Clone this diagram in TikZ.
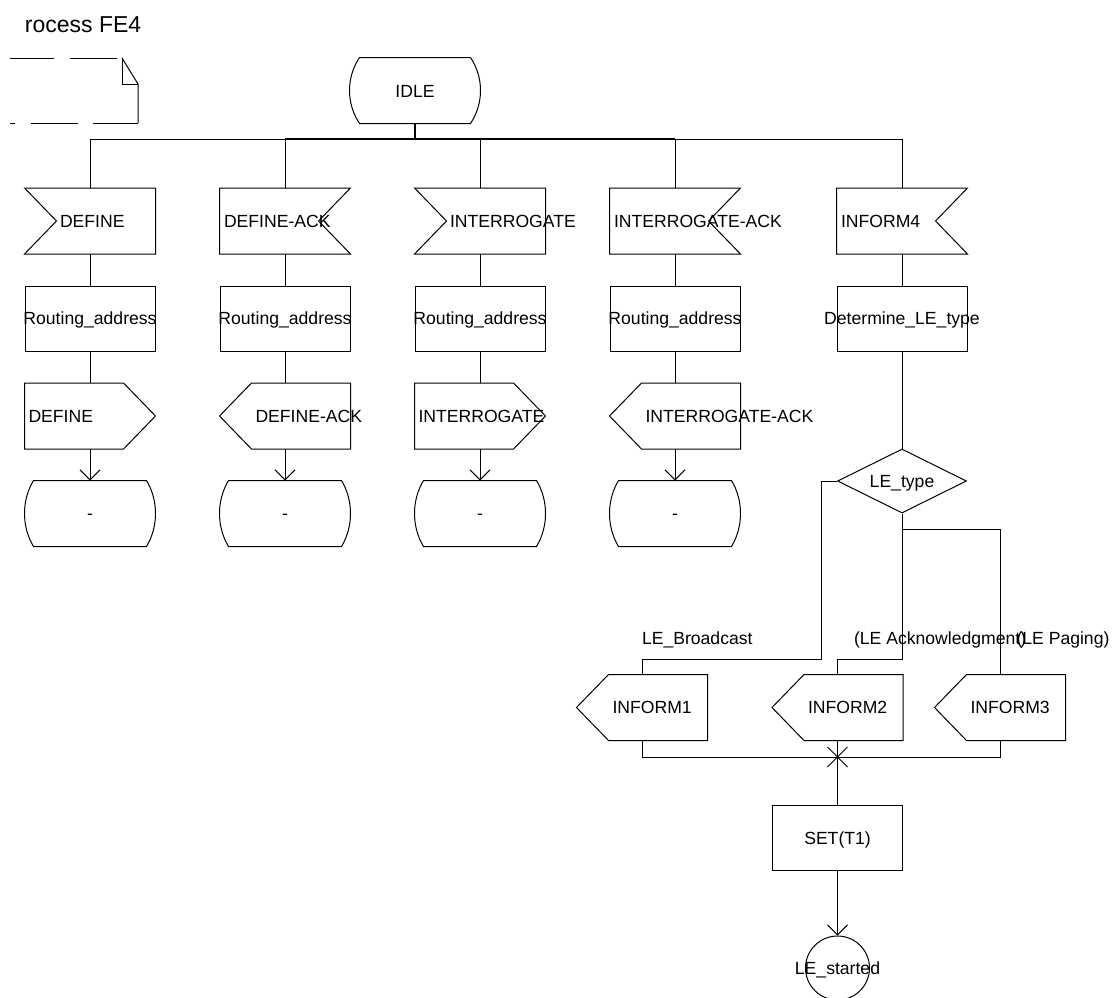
\documentclass[tikz,border=0pt]{standalone}
\usepackage{fontspec}
\setmainfont{Liberation Sans}
\usetikzlibrary{calc,arrows.meta,shapes.geometric}
\newcommand\ft{\fontsize{8.8}{10.5}\selectfont}
\newcommand\sdlInL[1]{\draw (#1.north west) -- (#1.north east) -- (#1.south east) -- (#1.south west) -- ($(#1.west)+(32,0)$) -- cycle;}
\newcommand\sdlInR[1]{\draw (#1.north west) -- (#1.north east) -- ($(#1.east)-(32,0)$) -- (#1.south east) -- (#1.south west) -- cycle;}
\newcommand\sdlOutR[1]{\draw (#1.north west) -- ($(#1.north east)-(32,0)$) -- (#1.east) -- ($(#1.south east)-(32,0)$) -- (#1.south west) -- cycle;}
\newcommand\sdlOutL[1]{\draw (#1.west) -- ($(#1.north west)+(32,0)$) -- (#1.north east) -- (#1.south east) -- ($(#1.south west)+(32,0)$) -- cycle;}
\newcommand\sdlState[2]{\draw ($(#1.north west)+(#2,0)$) -- ($(#1.north east)-(#2,0)$) .. controls ($(#1.north east)+(#2/3,20)$) and ($(#1.south east)+(#2/3,-20)$) .. ($(#1.south east)-(#2,0)$) -- ($(#1.south west)+(#2,0)$) .. controls ($(#1.south west)+(-#2/3,-20)$) and ($(#1.north west)+(-#2/3,20)$) .. cycle;}
\begin{document}
\begin{tikzpicture}[x=0.5pt,y=-0.5pt,line width=0.5pt,
  frame/.style={rectangle,draw=none,minimum width=65pt,minimum height=32.5pt,inner sep=0pt},
  box/.style={frame,draw},
  txt/.style={inner sep=0pt,anchor=base west,font=\ft},
  ctxt/.style={inner sep=0pt,anchor=base,font=\ft},
  arr/.style={-{Straight Barb[length=5pt,width=10pt]}},
  bus/.style={line width=0.8pt}]
\useasboundingbox (0,0) rectangle (1112,997);

% title
\node[inner sep=0pt,anchor=base west,font=\fontsize{11.5}{13}\selectfont] (title) at (24.5,32) {rocess FE4};

% text extension symbol (partially visible)
\draw (10,58) -- (54,58);
\draw (70,58) -- (117,58);
\draw (122,58) -- (138,84) -- (138,123);
\draw (122,58) -- (122,84) -- (138,84);
\draw (93,123) -- (138,123);
\draw (31,123) -- (78,123);
\draw (10,123) -- (15,123);

% IDLE state
\node[frame] (idle) at (415,90.5) {};
\sdlState{idle}{10}
\node[ctxt] (idlet) at (415,97.3) {IDLE};
\coordinate (bus) at (415,139);

% row nodes
\foreach \n/\x in {1/90,2/285,3/480,4/675,5/902}{
  \node[frame] (in\n) at (\x,221) {};
  \node[box] (t\n) at (\x,318.5) {};
}
\foreach \n/\x in {1/90,2/285,3/480,4/675}{
  \node[frame] (o\n) at (\x,416) {};
  \node[frame] (s\n) at (\x,513.5) {};
  \node[ctxt] (st\n) at (\x,519.8) {-};
}

% input signals
\sdlInL{in1} \sdlInR{in2} \sdlInL{in3} \sdlInR{in4} \sdlInR{in5}
\node[txt] (in1t) at ($(in1.west)+(35,6.3)$) {DEFINE};
\node[txt] (in2t) at ($(in2.west)+(4,6.3)$) {DEFINE-ACK};
\node[txt] (in3t) at ($(in3.west)+(35,6.3)$) {INTERROGATE};
\node[txt] (in4t) at ($(in4.west)+(4,6.3)$) {INTERROGATE-ACK};
\node[txt] (in5t) at ($(in5.west)+(4,6.3)$) {INFORM4};

% tasks
\foreach \n in {1,2,3,4}{\node[ctxt] (tt\n) at ($(t\n.center)+(0,6.3)$) {Routing\_address};}
\node[ctxt] (tt5) at ($(t5.center)+(0,6.3)$) {Determine\_LE\_type};

% outputs
\sdlOutR{o1} \sdlOutL{o2} \sdlOutR{o3} \sdlOutL{o4}
\node[txt] (o1t) at ($(o1.west)+(3.5,6.3)$) {DEFINE};
\node[txt] (o2t) at ($(o2.west)+(35.5,6.3)$) {DEFINE-ACK};
\node[txt] (o3t) at ($(o3.west)+(3.5,6.3)$) {INTERROGATE};
\node[txt] (o4t) at ($(o4.west)+(35.5,6.3)$) {INTERROGATE-ACK};

% next states
\foreach \n in {1,2,3,4}{\sdlState{s\n}{9}}

% bus connections
\draw (bus) -| (in1.north);
\draw (bus) -| (in5.north);
\draw (bus -| in2.north) -- (in2.north);
\draw (bus -| in3.north) -- (in3.north);
\draw (bus -| in4.north) -- (in4.north);
\draw[bus] (bus -| in2.north) -- (bus -| in4.north);
\draw[bus] (idle.south) -- (bus);

% column connectors
\foreach \n in {1,2,3,4}{
  \draw (in\n.south) -- (t\n.north);
  \draw (t\n.south) -- (o\n.north);
  \draw[arr] (o\n.south) -- (s\n.north);
}
\draw (in5.south) -- (t5.north);

% decision
\node[diamond,draw,aspect=2,minimum width=64.5pt,minimum height=32pt,inner sep=0pt] (d) at (902,481) {};
\node[ctxt] (dt) at (902,487) {LE\_type};
\draw (t5.south) -- (d.north);

% answer outputs
\node[frame] (i1) at (642,707.5) {};
\node[frame] (i2) at (837.5,707.5) {};
\node[frame] (i3) at (1000,707.5) {};
\sdlOutL{i1} \sdlOutL{i2} \sdlOutL{i3}
\node[txt] (i1t) at ($(i1.west)+(35.5,6.3)$) {INFORM1};
\node[txt] (i2t) at ($(i2.west)+(35.5,6.3)$) {INFORM2};
\node[txt] (i3t) at ($(i3.west)+(35.5,6.3)$) {INFORM3};

\coordinate (j1) at (821,659);
\coordinate (j2) at (902,659);
\coordinate (j3) at (902,529);
\draw (d.west) -| (j1) -| (i1.north);
\draw (d.south) -- (j2) -| (i2.north);
\draw (j3) -| (i3.north);

\node[txt] (l1) at (641.5,644) {LE\_Broadcast};
\node[txt] (l2) at (853.5,644) {(LE Acknowledgment)};
\node[txt] (l3) at (1016,644) {(LE Paging)};

% merge
\coordinate (xm) at (837.5,757);
\draw (i1.south) |- (xm);
\draw (i3.south) |- (xm);
\draw ($(xm)+(-10,-10)$) -- ($(xm)+(10,10)$);
\draw ($(xm)+(-10,10)$) -- ($(xm)+(10,-10)$);

\node[box] (set) at (837.5,838) {};
\node[ctxt] (sett) at (837.5,844.8) {SET(T1)};
\draw (i2.south) -- (set.north);

\node[circle,draw,minimum size=32pt,inner sep=0pt] (c) at (837.5,968) {};
\node[ctxt] (ct) at (837.5,974.3) {LE\_started};
\draw[arr] (set.south) -- (c.north);
\end{tikzpicture}
\end{document}
